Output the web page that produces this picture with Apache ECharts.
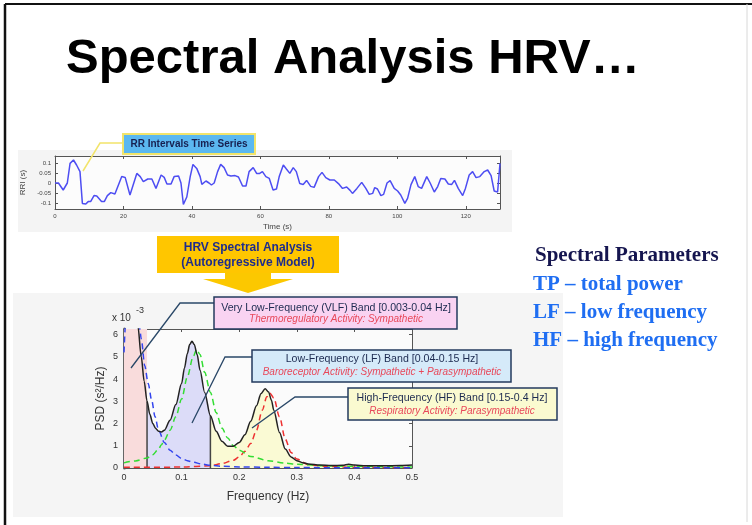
<!DOCTYPE html>
<html>
<head>
<meta charset="utf-8">
<script src="https://cdn.jsdelivr.net/npm/echarts@6/dist/echarts.min.js"></script>
<style>
  html, body { margin: 0; padding: 0; background: #fff; }
  #chart { width: 752px; height: 525px; }
</style>
</head>
<body>
<div id="chart"></div>
<script>
var myChart = echarts.init(document.getElementById('chart'));

// RR interval time series (s, s)
var rrTime = [0, 1.0, 2.4, 3.6, 4.4, 5.4, 6.3, 7.3, 8.0, 9.0, 9.7, 10.4, 11.4, 12.2, 13.6, 14.4, 15.3, 16.3, 17.5, 19.5,
  20.5, 21.9, 23.9, 24.9, 25.8, 27.1, 28.3, 29.5, 31.0, 31.9, 32.7, 33.9, 34.8, 36.1, 36.8, 37.5, 38.5, 39.5, 40.3, 41.4,
  42.4, 42.9, 44.1, 45.0, 45.7, 46.5, 47.5, 48.4, 49.4, 50.4, 51.4, 52.6, 53.6, 54.8, 55.8, 56.7, 57.9, 58.9, 59.8, 60.6,
  61.6, 62.6, 63.7, 64.7, 65.5, 66.7, 67.6, 68.6, 69.6, 70.5, 71.5, 72.5, 73.5, 74.7, 75.7, 77.0, 78.0, 79.1, 80.3, 81.6,
  82.8, 84.0, 85.2, 86.2, 86.9, 88.2, 89.6, 90.8, 91.8, 92.8, 93.4, 94.2, 95.2, 96.0, 97.0, 97.9, 99.1, 100.1, 101.0, 102.2,
  103.0, 104.0, 105.1, 106.1, 107.1, 108.6, 109.6, 110.8, 111.8, 112.7, 113.9, 114.9, 115.9, 116.7, 117.8, 119.1, 119.9, 121.0, 122.0, 123.0,
  124.1, 125.4, 126.4, 127.4, 128.3, 129.3, 130];
var rrValue = [0, 0, -0.035, 0, 0.098, 0.115, 0.09, 0.057, -0.102, -0.105, -0.093, -0.093, -0.063, -0.065, -0.093, -0.093, -0.063, -0.048, -0.055, 0.032,
  0.028, -0.06, 0.048, 0.032, 0.007, 0.02, 0.02, -0.027, 0.04, 0.028, -0.005, -0.005, 0.032, 0.035, 0, -0.107, -0.07, 0.032, 0.093, 0.073,
  0.032, -0.007, 0.01, 0, -0.01, 0, 0.057, 0.093, 0.077, 0.04, 0.035, 0.037, 0.03, -0.015, -0.015, 0.057, 0.077, 0.048, 0.048, 0.057,
  0.032, 0.023, -0.035, -0.03, 0.032, 0.09, 0.07, 0.048, 0.077, 0.057, -0.003, -0.007, 0.013, -0.017, -0.022, 0.032, 0.053, 0.027, 0.015, 0.015,
  -0.003, -0.027, -0.02, -0.037, -0.052, -0.027, 0.003, -0.027, -0.057, -0.052, -0.023, -0.03, -0.063, -0.057, 0, 0.012, -0.027, -0.04, -0.06, -0.102,
  -0.077, -0.008, 0.032, -0.018, -0.027, 0.032, 0, -0.045, -0.018, 0.023, 0.02, -0.005, -0.007, 0.013, -0.027, -0.063, -0.027, 0.04, 0.057, 0.027,
  0.032, 0.057, 0.065, 0.037, -0.04, -0.045, 0.098];
var rrTicks = [-0.1, -0.05, 0, 0.05, 0.1];
var timeTicks = [0, 20, 40, 60, 80, 100, 120];

// power spectral density, [Hz, x10^-3 s^2/Hz]
var psdTotal = [[0, 40], [0.01, 20], [0.02, 9], [0.024, 6.4], [0.03, 5.0], [0.035, 3.9], [0.04, 3.0], [0.045, 2.4], [0.05, 2.0],
  [0.055, 1.78], [0.06, 1.65], [0.065, 1.62], [0.07, 1.7], [0.08, 2.15], [0.09, 2.85], [0.1, 3.8], [0.105, 4.5], [0.11, 5.15],
  [0.114, 5.55], [0.118, 5.7], [0.122, 5.55], [0.127, 5.1], [0.132, 4.4], [0.14, 3.4], [0.15, 2.35], [0.16, 1.65], [0.17, 1.2],
  [0.18, 0.98], [0.19, 0.98], [0.2, 1.15], [0.21, 1.5], [0.22, 2.1], [0.23, 2.8], [0.238, 3.35], [0.245, 3.56], [0.251, 3.42],
  [0.256, 3.05], [0.26, 2.6], [0.27, 1.6], [0.28, 0.85], [0.29, 0.5], [0.3, 0.33], [0.31, 0.24], [0.32, 0.18], [0.34, 0.13],
  [0.36, 0.11], [0.38, 0.12], [0.39, 0.17], [0.4, 0.13], [0.42, 0.1], [0.45, 0.1], [0.48, 0.11], [0.5, 0.13]];
var psdVLF = [[0, 5.2], [0.004, 7], [0.015, 20], [0.027, 6.3], [0.03, 5.8], [0.036, 4.6], [0.042, 3.8], [0.048, 3.05], [0.054, 2.3],
  [0.06, 1.7], [0.07, 1.15], [0.08, 0.8], [0.09, 0.58], [0.1, 0.43], [0.11, 0.33], [0.12, 0.26], [0.135, 0.18], [0.15, 0.12],
  [0.17, 0.08], [0.2, 0.05], [0.25, 0.03], [0.3, 0.02], [0.4, 0.01], [0.5, 0.01]];
var psdLF = [[0, 0.23], [0.02, 0.32], [0.04, 0.45], [0.05, 0.6], [0.06, 0.85], [0.065, 1.05], [0.07, 1.25], [0.08, 1.7], [0.09, 2.3],
  [0.1, 3.1], [0.11, 4.1], [0.12, 5.0], [0.126, 5.33], [0.132, 5.1], [0.14, 4.3], [0.15, 3.4], [0.16, 2.5], [0.17, 1.8],
  [0.18, 1.35], [0.19, 1.0], [0.2, 0.8], [0.22, 0.52], [0.25, 0.33], [0.28, 0.22], [0.3, 0.17], [0.35, 0.1], [0.4, 0.07], [0.5, 0.04]];
var psdHF = [[0, 0.03], [0.1, 0.04], [0.15, 0.1], [0.17, 0.2], [0.19, 0.35], [0.2, 0.5], [0.21, 0.75], [0.22, 1.1], [0.23, 1.7],
  [0.24, 2.6], [0.248, 3.2], [0.253, 3.37], [0.26, 3.15], [0.27, 2.3], [0.28, 1.3], [0.29, 0.7], [0.3, 0.4], [0.32, 0.15],
  [0.35, 0.07], [0.4, 0.03], [0.5, 0.02]];
var psdTicks = [0, 1, 2, 3, 4, 5, 6];
var bandEdges = [0.04, 0.15, 0.4];

var FONT = 'Arial, "Liberation Sans", sans-serif';
var SERIF = '"Liberation Serif", "Times New Roman", serif';

function band(lo, hi) {
    return psdTotal.filter(p => p[0] >= lo && p[0] <= hi);
}
function valueAt(f) {
    return psdTotal.find(p => p[0] === f)[1];
}

function boxAxis(pos, grid, min, max, extra) {
    return Object.assign({
        type: 'value', gridIndex: grid, position: pos, min: min, max: max,
        axisLine: { show: true, onZero: false, lineStyle: { color: '#555', width: 1 } },
        axisTick: { show: true, inside: true, length: 3, lineStyle: { color: '#555' } },
        axisLabel: { show: false },
        splitLine: { show: false }
    }, extra || {});
}

var rrData = rrTime.map((t, i) => [t, rrValue[i]]);
var tickStyle = { color: '#555' };

myChart.setOption({
    animation: false,
    backgroundColor: '#fff',
    grid: [
        { left: 55, top: 156, width: 445, height: 53, show: true, backgroundColor: '#fcfcfc', borderWidth: 0 },
        { left: 124, top: 329, width: 288, height: 139, show: true, backgroundColor: '#fbfbfb', borderWidth: 0 }
    ],
    xAxis: [
        boxAxis('bottom', 0, 0, 130, {
            axisTick: { show: true, inside: true, length: 3, customValues: timeTicks, lineStyle: tickStyle },
            axisLabel: { show: true, customValues: timeTicks, fontSize: 6, color: '#444', fontFamily: FONT, margin: 4 },
            name: 'Time (s)', nameLocation: 'middle', nameGap: 14,
            nameTextStyle: { fontSize: 8, color: '#444', fontFamily: FONT }
        }),
        boxAxis('top', 0, 0, 130, {
            axisTick: { show: true, inside: true, length: 3, customValues: timeTicks, lineStyle: tickStyle }
        }),
        boxAxis('bottom', 1, 0, 0.5, {
            interval: 0.1,
            axisLabel: { show: true, fontSize: 9, color: '#333', fontFamily: FONT, margin: 5 },
            name: 'Frequency (Hz)', nameLocation: 'middle', nameGap: 23,
            nameTextStyle: { fontSize: 12, color: '#333', fontFamily: FONT }
        }),
        boxAxis('top', 1, 0, 0.5, { interval: 0.1 })
    ],
    yAxis: [
        boxAxis('left', 0, -0.13, 0.135, {
            axisTick: { show: true, inside: true, length: 3, customValues: rrTicks, lineStyle: tickStyle },
            axisLabel: { show: true, customValues: rrTicks, fontSize: 6, color: '#444', fontFamily: FONT, margin: 4 },
            name: 'RRI (s)', nameLocation: 'middle', nameGap: 22, nameRotate: 90,
            nameTextStyle: { fontSize: 8, color: '#444', fontFamily: FONT }
        }),
        boxAxis('right', 0, -0.13, 0.135, {
            axisTick: { show: true, inside: true, length: 3, customValues: rrTicks, lineStyle: tickStyle }
        }),
        boxAxis('left', 1, 0, 6.25, {
            axisLine: { show: true, onZero: false, lineStyle: { color: '#666', width: 3 } },
            axisTick: { show: true, inside: true, length: 3, customValues: psdTicks, lineStyle: tickStyle },
            axisLabel: { show: true, customValues: psdTicks, fontSize: 9, color: '#333', fontFamily: FONT, margin: 6 },
            name: 'PSD (s²/Hz)', nameLocation: 'middle', nameGap: 17, nameRotate: 90,
            nameTextStyle: { fontSize: 12, color: '#333', fontFamily: FONT }
        }),
        boxAxis('right', 1, 0, 6.25, {
            axisTick: { show: true, inside: true, length: 3, customValues: psdTicks, lineStyle: tickStyle }
        })
    ],
    series: [
        {
            type: 'line', xAxisIndex: 0, yAxisIndex: 0, data: rrData, symbol: 'none',
            lineStyle: { color: '#4d4df2', width: 1.5 }
        },
        // band shading
        {
            type: 'line', xAxisIndex: 2, yAxisIndex: 2, data: [], symbol: 'none', silent: true,
            markArea: {
                silent: true,
                itemStyle: { color: '#f9dcdc' },
                data: [[{ xAxis: 0 }, { xAxis: bandEdges[0] }]]
            }
        },
        {
            type: 'line', xAxisIndex: 2, yAxisIndex: 2, data: band(bandEdges[0], bandEdges[1]), symbol: 'none',
            smooth: 0.3, smoothMonotone: 'x',
            lineStyle: { width: 0 }, areaStyle: { color: '#dcdcf8', opacity: 1 }
        },
        {
            type: 'line', xAxisIndex: 2, yAxisIndex: 2, data: band(bandEdges[1], bandEdges[2]), symbol: 'none',
            smooth: 0.3, smoothMonotone: 'x',
            lineStyle: { width: 0 }, areaStyle: { color: '#fafad4', opacity: 1 }
        },
        {
            type: 'line', xAxisIndex: 2, yAxisIndex: 2, symbol: 'none',
            data: [[bandEdges[0], 0], [bandEdges[0], valueAt(bandEdges[0])]],
            lineStyle: { color: '#444', width: 1.5 }
        },
        {
            type: 'line', xAxisIndex: 2, yAxisIndex: 2, symbol: 'none',
            data: [[bandEdges[1], 0], [bandEdges[1], valueAt(bandEdges[1])]],
            lineStyle: { color: '#444', width: 1.5 }
        },
        // components
        {
            type: 'line', xAxisIndex: 2, yAxisIndex: 2, data: psdHF, symbol: 'none', smooth: 0.3, smoothMonotone: 'x',
            lineStyle: { color: '#ee3030', width: 1.5, type: [6, 4] }
        },
        {
            type: 'line', xAxisIndex: 2, yAxisIndex: 2, data: psdLF, symbol: 'none', smooth: 0.3, smoothMonotone: 'x',
            lineStyle: { color: '#33dd33', width: 1.5, type: [6, 4] }
        },
        {
            type: 'line', xAxisIndex: 2, yAxisIndex: 2, data: psdVLF, symbol: 'none', smooth: 0.3, smoothMonotone: 'x',
            lineStyle: { color: '#3344ee', width: 1.5, type: [6, 4] }
        },
        {
            type: 'line', xAxisIndex: 2, yAxisIndex: 2, data: psdTotal, symbol: 'none', smooth: 0.3, smoothMonotone: 'x',
            lineStyle: { color: '#222', width: 1.5 }
        }
    ],
    graphic: [
        // slide frame
        { type: 'line', z: 100, shape: { x1: 5, y1: 4, x2: 752, y2: 4 }, style: { stroke: '#111', lineWidth: 2 } },
        { type: 'line', z: 100, shape: { x1: 5, y1: 4, x2: 5, y2: 525 }, style: { stroke: '#111', lineWidth: 2.5 } },
        { type: 'line', z: 100, shape: { x1: 747, y1: 4, x2: 747, y2: 522 }, style: { stroke: '#d8d8d8', lineWidth: 1 } },
        // panels
        { type: 'rect', z: -10, shape: { x: 18, y: 150, width: 494, height: 82 }, style: { fill: '#f4f4f4' } },
        { type: 'rect', z: -10, shape: { x: 13, y: 293, width: 550, height: 224 }, style: { fill: '#f5f5f5' } },
        // title
        {
            type: 'text', z: 100, left: 66, top: 35,
            style: { text: 'Spectral Analysis HRV…', font: 'bold 49px ' + FONT, fill: '#000' }
        },
        // RR label
        { type: 'polyline', z: 100, shape: { points: [[123, 143], [100, 143], [83, 171]] }, style: { stroke: '#f2e46a', lineWidth: 1.5, fill: null } },
        { type: 'rect', z: 100, shape: { x: 123, y: 134, width: 132, height: 20 }, style: { fill: '#5bb8f0', stroke: '#f2e46a', lineWidth: 2 } },
        {
            type: 'text', z: 101, x: 189, y: 144,
            style: { text: 'RR Intervals Time Series', font: 'bold 10px ' + FONT, fill: '#172050', align: 'center', verticalAlign: 'middle' }
        },
        // spectral analysis arrow
        {
            type: 'polygon', z: 100,
            shape: { points: [[225, 272], [271, 272], [271, 279], [293, 279], [248, 293], [203, 279], [225, 279]] },
            style: { fill: '#fcc800' }
        },
        { type: 'rect', z: 100, shape: { x: 157, y: 236, width: 182, height: 37 }, style: { fill: '#ffc600' } },
        {
            type: 'text', z: 101, x: 248, y: 255,
            style: {
                text: 'HRV Spectral Analysis\n(Autoregressive Model)', font: 'bold 12px ' + FONT, lineHeight: 14.5,
                fill: '#1e2c8c', align: 'center', verticalAlign: 'middle'
            }
        },
        // x 10^-3
        { type: 'text', z: 100, x: 112, y: 318, style: { text: 'x 10', font: '10px ' + FONT, fill: '#333', verticalAlign: 'middle' } },
        { type: 'text', z: 100, x: 136, y: 311, style: { text: '-3', font: '9px ' + FONT, fill: '#333', verticalAlign: 'middle' } },
        // band annotations
        { type: 'polyline', z: 100, shape: { points: [[214, 303], [180, 303], [131, 368]] }, style: { stroke: '#2a4868', lineWidth: 1.3, fill: null } },
        { type: 'polyline', z: 100, shape: { points: [[252, 357], [225, 357], [192, 423]] }, style: { stroke: '#2a4868', lineWidth: 1.3, fill: null } },
        { type: 'polyline', z: 100, shape: { points: [[348, 397], [295, 397], [252, 428]] }, style: { stroke: '#2a4868', lineWidth: 1.3, fill: null } },
        { type: 'rect', z: 100, shape: { x: 214, y: 297, width: 243, height: 32 }, style: { fill: '#f9d3f2', stroke: '#233a5e', lineWidth: 1.5 } },
        { type: 'text', z: 101, x: 336, y: 308, style: { text: 'Very Low-Frequency (VLF) Band [0.003-0.04 Hz]', font: '10.6px ' + FONT, fill: '#1c2a50', align: 'center', verticalAlign: 'middle' } },
        { type: 'text', z: 101, x: 336, y: 319.5, style: { text: 'Thermoregulatory Activity: Sympathetic', font: 'italic 10px ' + FONT, fill: '#e8485a', align: 'center', verticalAlign: 'middle' } },
        { type: 'rect', z: 100, shape: { x: 252, y: 350, width: 259, height: 32 }, style: { fill: '#d5eaf9', stroke: '#233a5e', lineWidth: 1.5 } },
        { type: 'text', z: 101, x: 382, y: 359.5, style: { text: 'Low-Frequency (LF) Band [0.04-0.15 Hz]', font: '10.6px ' + FONT, fill: '#1c2a50', align: 'center', verticalAlign: 'middle' } },
        { type: 'text', z: 101, x: 382, y: 372.5, style: { text: 'Baroreceptor Activity: Sympathetic + Parasympathetic', font: 'italic 10px ' + FONT, fill: '#e8485a', align: 'center', verticalAlign: 'middle' } },
        { type: 'rect', z: 100, shape: { x: 348, y: 388, width: 209, height: 32 }, style: { fill: '#fafad0', stroke: '#233a5e', lineWidth: 1.5 } },
        { type: 'text', z: 101, x: 452, y: 398.5, style: { text: 'High-Frequency (HF) Band [0.15-0.4 Hz]', font: '10.6px ' + FONT, fill: '#1c2a50', align: 'center', verticalAlign: 'middle' } },
        { type: 'text', z: 101, x: 452, y: 411, style: { text: 'Respiratory Activity: Parasympathetic', font: 'italic 10px ' + FONT, fill: '#e8485a', align: 'center', verticalAlign: 'middle' } },
        // spectral parameters
        { type: 'text', z: 100, x: 535, y: 256, style: { text: 'Spectral Parameters', font: 'bold 21px ' + SERIF, fill: '#15154f', verticalAlign: 'middle' } },
        { type: 'text', z: 100, x: 533, y: 285, style: { text: 'TP – total power', font: 'bold 21px ' + SERIF, fill: '#1f6ef2', verticalAlign: 'middle' } },
        { type: 'text', z: 100, x: 533, y: 312.5, style: { text: 'LF – low frequency', font: 'bold 21px ' + SERIF, fill: '#1f6ef2', verticalAlign: 'middle' } },
        { type: 'text', z: 100, x: 533, y: 341, style: { text: 'HF – high frequency', font: 'bold 21px ' + SERIF, fill: '#1f6ef2', verticalAlign: 'middle' } }
    ]
});
</script>
</body>
</html>
